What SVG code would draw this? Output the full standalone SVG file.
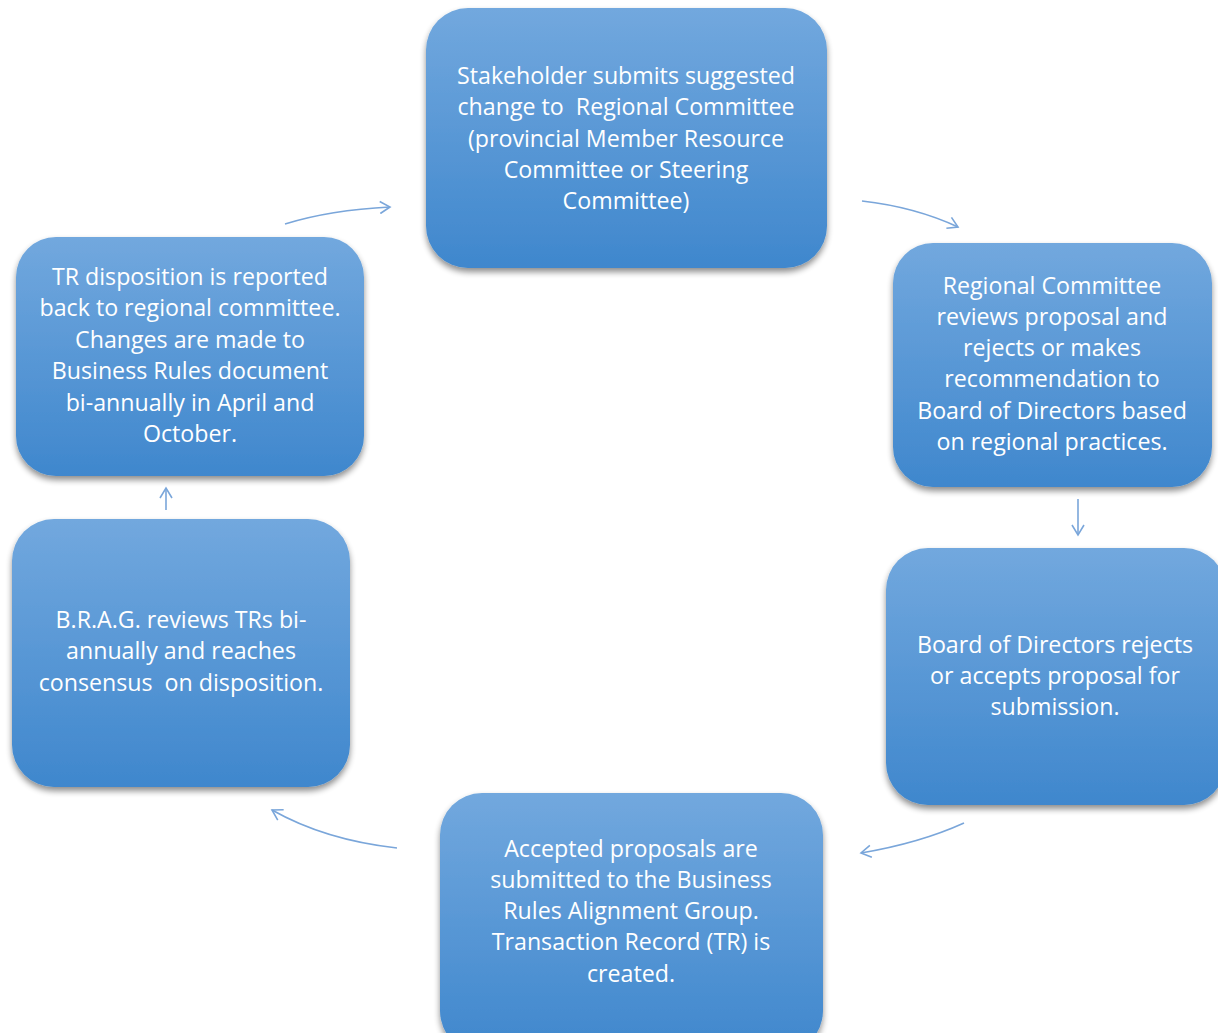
<svg xmlns="http://www.w3.org/2000/svg" width="1218" height="1033" viewBox="0 0 1218 1033">
<style>
.box{fill:url(#g);filter:url(#sh)}
.t{font-family:"Open Sans","Liberation Sans",sans-serif;font-size:23.2px;fill:#ffffff;text-anchor:middle;white-space:pre}
.c{fill:none;stroke:#7aa6da;stroke-width:1.6;marker-end:url(#ah)}
</style>
<defs>
<linearGradient id="g" x1="0" y1="0" x2="0" y2="1">
<stop offset="0" stop-color="#72a8de"/>
<stop offset="1" stop-color="#3f87cd"/>
</linearGradient>
<filter id="sh" x="-10%" y="-10%" width="120%" height="125%">
<feGaussianBlur in="SourceAlpha" stdDeviation="3"/>
<feOffset dx="0" dy="4" result="b"/>
<feComponentTransfer><feFuncA type="linear" slope="0.45"/></feComponentTransfer>
<feMerge><feMergeNode/><feMergeNode in="SourceGraphic"/></feMerge>
</filter>
<marker id="ah" markerWidth="14" markerHeight="14" refX="11" refY="7" orient="auto" markerUnits="userSpaceOnUse">
<path d="M1,1 L11,7 L1,13" fill="none" stroke="#7aa6da" stroke-width="1.6"/>
</marker>
</defs>
<rect width="1218" height="1033" fill="#ffffff"/>
<g id="connectors">
<path class="c" d="M285,224 Q330,210 390,207"/>
<path class="c" d="M862,201 Q915,207 958,227"/>
<path class="c" d="M1078,499 L1078,535"/>
<path class="c" d="M964,823 Q920,843 861,853"/>
<path class="c" d="M397,848 Q325,840 272,810"/>
<path class="c" d="M166,510 L166,488"/>
</g>
<g id="n1">
<rect class="box" x="426" y="8" width="401" height="260" rx="42"/>
<text class="t" x="626" y="84">Stakeholder submits suggested</text>
<text class="t" x="626" y="115" xml:space="preserve">change to  Regional Committee</text>
<text class="t" x="626" y="147">(provincial Member Resource</text>
<text class="t" x="626" y="178">Committee or Steering</text>
<text class="t" x="626" y="209">Committee)</text>
</g>
<g id="n2">
<rect class="box" x="893" y="243" width="319" height="244" rx="40"/>
<text class="t" x="1052" y="294">Regional Committee</text>
<text class="t" x="1052" y="325">reviews proposal and</text>
<text class="t" x="1052" y="356">rejects or makes</text>
<text class="t" x="1052" y="387">recommendation to</text>
<text class="t" x="1052" y="419">Board of Directors based</text>
<text class="t" x="1052" y="450">on regional practices.</text>
</g>
<g id="n3">
<rect class="box" x="886" y="548" width="340" height="257" rx="42"/>
<text class="t" x="1055" y="653">Board of Directors rejects</text>
<text class="t" x="1055" y="684">or accepts proposal for</text>
<text class="t" x="1055" y="715">submission.</text>
</g>
<g id="n4">
<rect class="box" x="440" y="793" width="383" height="260" rx="42"/>
<text class="t" x="631" y="857">Accepted proposals are</text>
<text class="t" x="631" y="888">submitted to the Business</text>
<text class="t" x="631" y="919">Rules Alignment Group.</text>
<text class="t" x="631" y="950">Transaction Record (TR) is</text>
<text class="t" x="631" y="982">created.</text>
</g>
<g id="n5">
<rect class="box" x="12" y="519" width="338" height="268" rx="42"/>
<text class="t" x="181" y="628">B.R.A.G. reviews TRs bi-</text>
<text class="t" x="181" y="659">annually and reaches</text>
<text class="t" x="181" y="691" xml:space="preserve">consensus  on disposition.</text>
</g>
<g id="n6">
<rect class="box" x="16" y="237" width="348" height="239" rx="40"/>
<text class="t" x="190" y="285">TR disposition is reported</text>
<text class="t" x="190" y="316">back to regional committee.</text>
<text class="t" x="190" y="348">Changes are made to</text>
<text class="t" x="190" y="379">Business Rules document</text>
<text class="t" x="190" y="411">bi-annually in April and</text>
<text class="t" x="190" y="442">October.</text>
</g>
</svg>
